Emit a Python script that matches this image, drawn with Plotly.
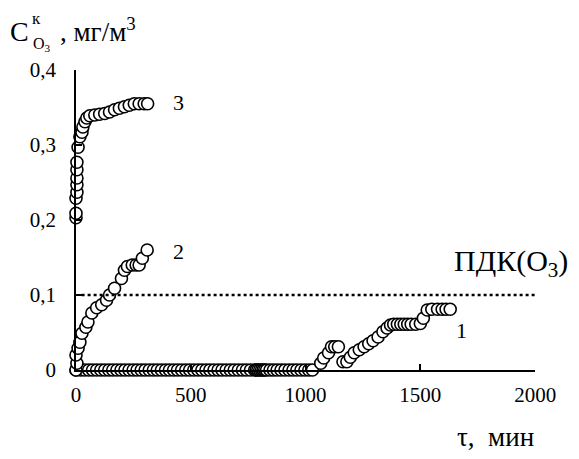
import plotly.graph_objects as go

# Series 1 (curve "1")
s1_x = [0, 20, 37, 55, 72, 90, 108, 125, 143, 160, 178, 196, 213, 231, 249, 266, 284,
        301, 319, 337, 354, 372, 390, 407, 425, 442, 460, 478, 495, 513, 531, 548, 566,
        583, 601, 619, 636, 654, 672, 689, 707, 725, 742, 760, 778, 785, 792, 800, 808,
        815, 822, 830, 845, 860, 876, 893, 910, 928, 945, 962, 980, 997, 1014, 1030,
        1066, 1079, 1100, 1113, 1127, 1143, 1163, 1180, 1195, 1212, 1234, 1255, 1275,
        1294, 1316, 1337, 1355, 1370, 1384, 1400, 1415, 1430, 1445, 1460, 1480, 1500,
        1513, 1530, 1550, 1575, 1595, 1612, 1630]
s1_y = [0] * 64 + [0.009, 0.016, 0.023, 0.031, 0.031, 0.031, 0.011, 0.011, 0.017, 0.023,
                   0.027, 0.031, 0.035, 0.039, 0.044, 0.051, 0.056, 0.060, 0.061, 0.061,
                   0.061, 0.061, 0.061, 0.061, 0.061, 0.062, 0.069, 0.080, 0.081, 0.081,
                   0.081, 0.081, 0.081]

# Series 2
s2_x = [0, 4, 0, 9, 17, 26, 43, 52, 69, 90, 112, 133, 146, 168, 198, 211, 224, 245, 262,
        275, 289, 310]
s2_y = [0, 0.009, 0.020, 0.029, 0.037, 0.049, 0.057, 0.064, 0.076, 0.083, 0.087, 0.093,
        0.100, 0.109, 0.122, 0.133, 0.138, 0.140, 0.140, 0.140, 0.149, 0.160]

# Series 3
s3_x = [0, 0, 0, 4, 4, 4, 4, 4, 9, 17, 26, 30, 39, 47, 60, 82, 103, 125, 146, 168, 189,
        211, 232, 254, 275, 297, 312]
s3_y = [0.203, 0.209, 0.229, 0.237, 0.247, 0.256, 0.267, 0.277, 0.297, 0.311, 0.317,
        0.324, 0.331, 0.336, 0.339, 0.340, 0.341, 0.342, 0.344, 0.347, 0.349, 0.351,
        0.353, 0.355, 0.355, 0.355, 0.355]

# Limit line (ПДК)
pdk_x = [25, 2045]
pdk_y = [0.1, 0.1]

x_ticks = [0, 500, 1000, 1500, 2000]
x_ticktext = ["0", "500", "1000", "1500", "2000"]
y_ticks = [0, 0.1, 0.2, 0.3, 0.4]
y_ticktext = ["0", "0,1", "0,2", "0,3", "0,4"]

FONT = "Liberation Serif, Times New Roman, serif"
marker = dict(symbol="circle", size=12, color="white", line=dict(color="black", width=1.6))

fig = go.Figure()
fig.add_trace(go.Scatter(x=pdk_x, y=pdk_y, mode="lines", xaxis="x2", yaxis="y",
                         line=dict(color="black", width=2.4, dash="dot"), hoverinfo="skip"))
for xs, ys in [(s1_x, s1_y), (s2_x, s2_y), (s3_x, s3_y)]:
    fig.add_trace(go.Scatter(x=xs, y=ys, mode="markers", marker=marker, cliponaxis=False))

main_frac = 465 / 476
tickfont = dict(family=FONT, size=21, color="black")
fig.update_layout(
    width=579, height=459,
    margin=dict(l=76, r=27, t=70, b=89),
    paper_bgcolor="white", plot_bgcolor="white",
    showlegend=False,
    font=dict(family=FONT, size=20, color="black"),
    xaxis=dict(range=[0, 2000], domain=[0, main_frac], tickvals=x_ticks, ticktext=x_ticktext,
               ticks="inside", ticklen=6, tickwidth=1.5, tickcolor="black",
               showline=True, linecolor="black", linewidth=1.5, showgrid=False,
               zeroline=False, ticklabelstandoff=5, tickfont=tickfont),
    xaxis2=dict(range=[0, 2000 / main_frac], domain=[0, 1], overlaying="x", visible=False,
                anchor="y"),
    yaxis=dict(range=[0, 0.4], tickvals=y_ticks, ticktext=y_ticktext,
               ticks="inside", ticklen=6, tickwidth=1.5, tickcolor="black",
               showline=True, linecolor="black", linewidth=1.5, showgrid=False,
               zeroline=False, ticklabelstandoff=14, tickfont=tickfont),
)

ann = [
    dict(x=447, y=0.357, text="3", size=22),
    dict(x=447, y=0.158, text="2", size=22),
    dict(x=1681, y=0.053, text="1", size=22),
    dict(x=1896, y=0.143, text="ПДК(O<sub>3</sub>)", size=30),
]
for a in ann:
    fig.add_annotation(x=a["x"], y=a["y"], xref="x", yref="y", text=a["text"],
                       showarrow=False, font=dict(family=FONT, size=a["size"], color="black"))


def px(xp, yp):
    return (xp - 76) / 476, (459 - 89 - yp) / 300


# Axis titles
xx, yy = px(501, 437)
fig.add_annotation(x=xx, y=yy, xref="paper", yref="paper", text="τ,  мин", showarrow=False,
                   xanchor="center", yanchor="middle",
                   font=dict(family=FONT, size=27, color="black"))

for txt, (xp, yp), size in [("C", (7, 31), 28), ("к", (29, 18), 17),
                            ("O<sub>3</sub>", (30, 44), 16),
                            (", мг/м<sup>3</sup>", (58, 30), 27)]:
    xx, yy = px(xp, yp)
    fig.add_annotation(x=xx, y=yy, xref="paper", yref="paper", text=txt, showarrow=False,
                       xanchor="left", yanchor="middle",
                       font=dict(family=FONT, size=size, color="black"))

fig.write_html("out.html")
